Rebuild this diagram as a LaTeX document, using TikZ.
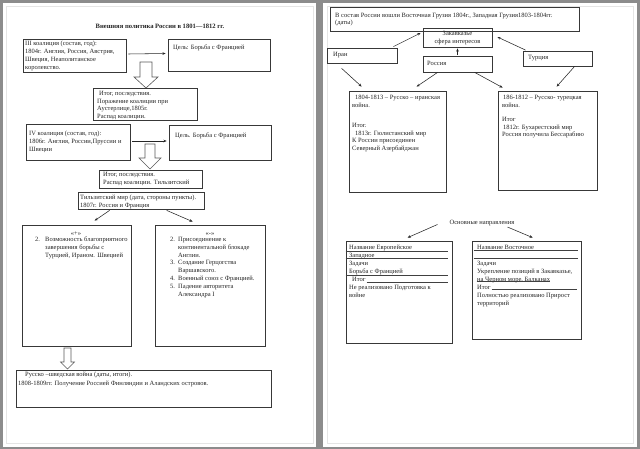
\documentclass[tikz,border=0pt]{standalone}
\usepackage{fontspec}
\setmainfont{Liberation Serif}
\usetikzlibrary{arrows.meta,fit,calc}
\newcommand\mkbox[3]{\node[frame, fit={(#2)(#3)}] (#1) {};}
\begin{document}
\begin{tikzpicture}[x=1pt,y=-1pt,
 frame/.style={draw=black!78, line width=0.75pt, inner sep=0pt},
 txt/.style={anchor=north west, inner sep=0pt, align=left, font=\fontsize{6.5}{7.9}\selectfont, text=black!85, execute at begin node=\strut, yshift=-0.7pt},
 ctxt/.style={txt, anchor=north, align=center},
 arr/.style={-{Stealth[length=3.2pt,width=2.6pt]}, line width=0.55pt, draw=black!85},
 blk/.style={draw=black!65, fill=white, line width=0.6pt, line join=miter},
 rule/.style={draw=black!75, line width=0.6pt}]
% background and pages
\fill[black!45] (0,0) rectangle (640,449);
\useasboundingbox (0,0) rectangle (640,449);
\fill[white] (3,3) rectangle (316,447);
\fill[white] (323,3) rectangle (637,447);
\draw[black!10, line width=0.4pt] (6,6) rectangle (313,443);
\draw[black!10, line width=0.4pt] (327,6) rectangle (633,443);

% ---------------- left page ----------------
\node[inner sep=0pt, font=\fontsize{6.6}{8}\selectfont\bfseries, text=black!85] (title) at (160,26) {Внешняя политика России в 1801—1812 гг.};

\mkbox{b1}{23,39}{126,72}
\node[txt] (t1) at (25,40) {III коалиция (состав, год):\\1804г.  Англия, Россия, Австрия,\\Швеция, Неаполитанское\\королевство.};
\mkbox{b2}{168,39}{270,71}
\node[txt] (t2) at (173,43) {Цель: Борьба с Францией};
\draw[arr] ($(b1.east)+(2,-1.5)$) -- ($(b2.west)+(-2,-1.5)$);

\draw[blk] (140,62) -- (152,62) -- (152,77) -- (158,77) -- (146,88) -- (134,77) -- (140,77) -- cycle;

\mkbox{b3}{93,88}{197,120}
\node[txt] (t3) at (97,90) {\hspace*{2pt}Итог, последствия.\\Поражение коалиции при\\Аустерлице,1805г.\\Распад коалиции.};

\mkbox{b4}{26,124}{130,160}
\node[txt] (t4) at (29,130) {IV коалиция (состав, год):\\1806г. Англия, России,Пруссии и\\Швеции};
\mkbox{b5}{169,125}{271,160}
\node[txt] (t5) at (175,131) {Цель.  Борьба с Францией};
\draw[arr] ($(b4.east)+(2,-1)$) -- ($(b5.west)+(-2,-1.5)$);

\draw[blk] (145,144) -- (155,144) -- (155,158) -- (161,158) -- (150,169) -- (139,158) -- (145,158) -- cycle;

\mkbox{b6}{99,170}{202,188}
\node[txt] (t6) at (103,171) {Итог, последствия.\\Распад коалиции.  Тильзитский};

\mkbox{b7}{78,192}{204,209}
\node[txt, font=\fontsize{6.5}{7.4}\selectfont] (t7) at (80,194.5) {Тильзитский мир (дата, стороны пункты).\\1807г. Россия и Франция};

\mkbox{b8}{22,225}{131,346}
\node[ctxt] (t8a) at (76,229) {«+»};
\node[txt] (t8) at (35,236) {\makebox[10pt][l]{2.}Возможность благоприятного\\\hspace*{10pt}завершения борьбы с\\\hspace*{10pt}Турцией, Ираном.  Швецией};

\mkbox{b9}{155,225}{265,346}
\node[ctxt] (t9a) at (210,229) {«-»};
\node[txt] (t9) at (170,236) {\makebox[8pt][l]{2.}Присоединение к\\\hspace*{8pt}континентальной блокаде\\\hspace*{8pt}Англии.\\\makebox[8pt][l]{3.}Создание Герцогства\\\hspace*{8pt}Варшавского.\\\makebox[8pt][l]{4.}Военный союз с Францией.\\\makebox[8pt][l]{5.}Падение авторитета\\\hspace*{8pt}Александра I};

\draw[arr] ($(b7.south west)+(32,1)$) -- ($(b8.north west)+(73,-4)$);
\draw[arr] ($(b7.south west)+(89,1)$) -- ($(b9.north west)+(38,-3)$);

\draw[blk] (64,348) -- (71,348) -- (71,362) -- (74.5,362) -- (67.5,369) -- (60.5,362) -- (64,362) -- cycle;

\mkbox{b10}{16,370}{271,407}
\node[txt, font=\fontsize{6.5}{8.8}\selectfont] (t10) at (18,371) {\hspace*{7pt}Русско –шведская война (даты, итоги).\\1808-1809гг. Получение Россией Финляндии и Аландских островов.};

% ---------------- right page ----------------
\mkbox{r1}{330,7}{579,31}
\node[txt, font=\fontsize{6.5}{7.2}\selectfont] (tr1) at (335,12) {В состав России вошли  Восточная Грузия 1804г., Западная Грузия1803-1804гг.\\(даты)};

\mkbox{r2}{423,28}{492,47}
\node[ctxt] (tr2) at (457.5,30) {Закавказье\\сфера  интересов};

\mkbox{iran}{327,48}{397,63}
\node[txt] (tiran) at (333,50) {Иран};
\mkbox{ross}{423,56}{492,72}
\node[txt] (tross) at (427,59) {Россия};
\mkbox{turk}{523,51}{592,66}
\node[txt] (tturk) at (528,53) {Турция};

\draw[arr] ($(iran.north east)+(-4,-1)$) -- ($(r2.west)+(-2,-4.5)$);
\draw[arr] ($(ross.north)+(0,-0.5)$) -- ($(r2.south)+(0,1)$);
\draw[arr] ($(turk.north west)+(3,-0.5)$) -- ($(r2.east)+(5,-0.5)$);

\mkbox{wl}{349,91}{446,192}
\node[txt] (twl1) at (352,94) {\hspace*{3pt}1804-1813 – Русско – иранская\\война.};
\node[txt] (twl2) at (352,122) {Итог.\\\hspace*{3pt}1813г. Гюлистанский  мир\\К России присоединен\\Северный Азербайджан};

\mkbox{wr}{498,91}{597,190}
\node[txt] (twr1) at (502,94) {\hspace*{1pt}186-1812 – Русско- турецкая\\война.};
\node[txt] (twr2) at (502,116) {Итог\\\hspace*{1pt}1812г. Бухарестский мир\\Россия получила Бессарабию};

\draw[arr] ($(iran.south west)+(15,5)$) -- ($(wl.north west)+(13,-4)$);
\draw[arr] ($(ross.south west)+(15,0)$) -- ($(wl.north west)+(68,-4)$);
\draw[arr] ($(ross.south west)+(52,0)$) -- ($(wr.north west)+(5,-3)$);
\draw[arr] ($(turk.south west)+(52,0)$) -- ($(wr.north west)+(59,-4)$);

\node[inner sep=0pt, font=\fontsize{6.5}{7.9}\selectfont, text=black!85] (osn) at (482,223.5) {Основные направления};

\mkbox{bl}{346,241}{452,343}
\node[txt, font=\fontsize{6.5}{8}\selectfont] (tbl) at (349,244) {Название  Европейское\\Западное\\Задачи\\Борьба с Францией\\\hspace*{3pt}Итог\\Не реализовано  Подготовка к\\войне};
\draw[rule] ($(bl.north west)+(0,10.5)$) -- ($(bl.north east)+(-4,10.5)$);
\draw[rule] ($(bl.north west)+(0,18)$) -- ($(bl.north east)+(-4,18)$);
\draw[rule] ($(bl.north west)+(0,34.5)$) -- ($(bl.north east)+(-4,34.5)$);
\draw[rule] ($(bl.north west)+(21,41.5)$) -- ($(bl.north east)+(-4,41.5)$);

\mkbox{br}{472,241}{581,339}
\node[txt, font=\fontsize{6.5}{8}\selectfont] (tbr) at (477,244) {Название Восточное\\\mbox{}\\Задачи\\Укрепление позиций в Закавказье,\\на Черном море, Балканах\\Итог\\Полностью реализовано Прирост\\территорий};
\draw[rule] ($(br.north west)+(2,10)$) -- ($(br.north east)+(-3,10)$);
\draw[rule] ($(br.north west)+(2,18)$) -- ($(br.north east)+(-3,18)$);
\draw[rule] ($(br.north west)+(5,40.5)$) -- ($(br.north west)+(78,40.5)$);
\draw[rule] ($(br.north west)+(20,48.5)$) -- ($(br.north east)+(-4,48.5)$);

\draw[arr] ($(osn.west)+(-12,1)$) -- ($(bl.north west)+(62,-3)$);
\draw[arr] ($(osn.south east)+(-7,0.5)$) -- ($(br.north west)+(61,-3)$);
\end{tikzpicture}
\end{document}
